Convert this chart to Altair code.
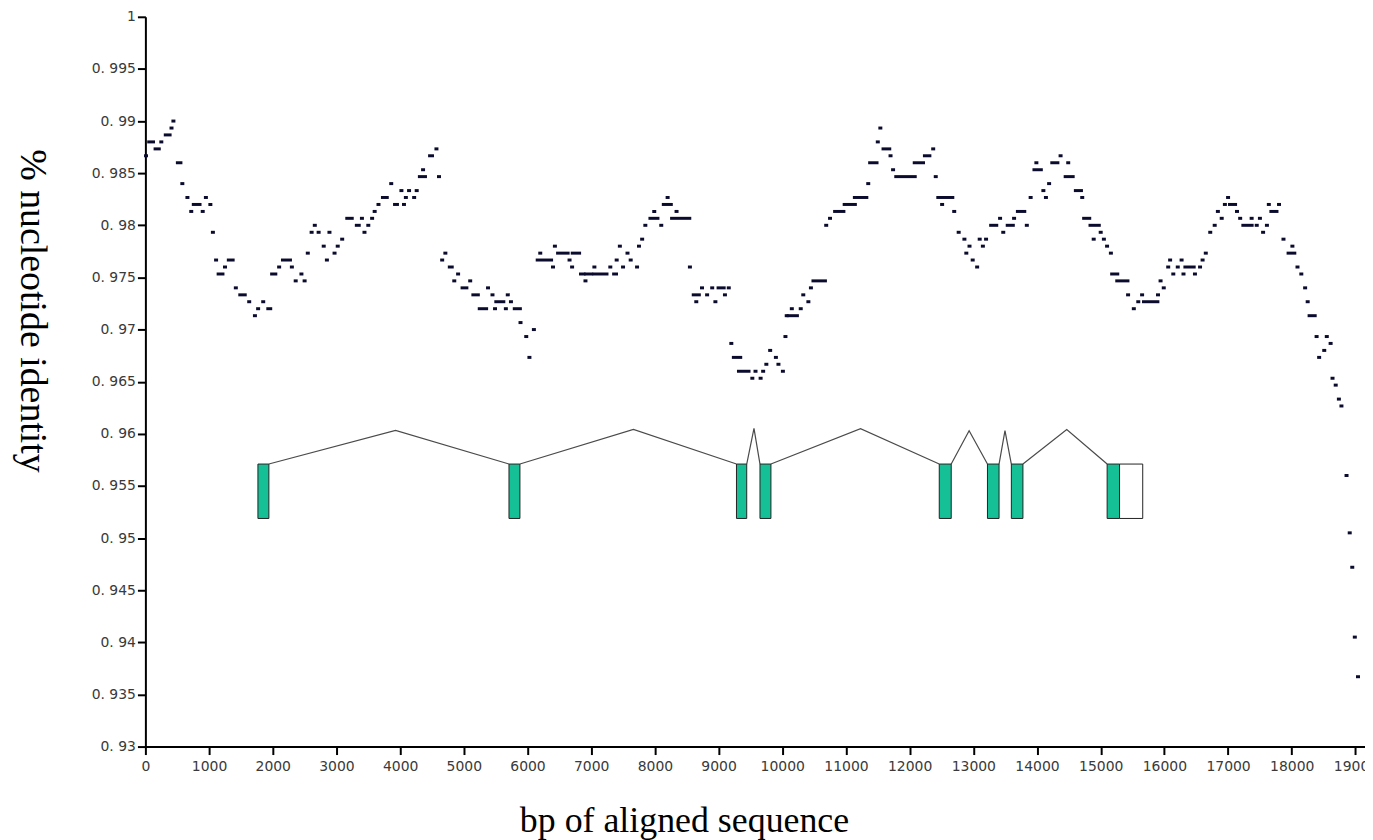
import altair as alt
import pandas as pd

# ---- sliding-window identity (each entry = one run of dots at one level) ----
dash_start = [10, 60, 160, 250, 320, 410, 440, 510, 580, 660, 720, 760, 900, 950, 1020, 1060, 1110, 1150, 1250, 1310,
              1420, 1490, 1630, 1720, 1770, 1850, 1930, 1990, 2100, 2160, 2300, 2360, 2450, 2500, 2550, 2610, 2660, 2720, 2800, 2850,
              2890, 2970, 3020, 3090, 3170, 3320, 3400, 3440, 3500, 3560, 3600, 3660, 3730, 3860, 3920, 4020, 4060, 4090, 4140, 4220,
              4260, 4310, 4360, 4470, 4570, 4610, 4660, 4710, 4780, 4850, 4910, 4980, 5100, 5150, 5250, 5380, 5450, 5490, 5510, 5660,
              5690, 5740, 5800, 5890, 5980, 6100, 6030, 6160, 6200, 6400, 6430, 6480, 6660, 6700, 6710, 6840, 6920, 7050, 7360, 6910,
              7050, 7300, 7400, 7450, 7500, 7570, 7620, 7720, 7750, 7800, 7850, 7930, 7990, 8100, 8140, 8200, 8340, 8270, 8550, 8610,
              8740, 8650, 8820, 8900, 8950, 9000, 9100, 9160, 9200, 9240, 9320, 9530, 9580, 9660, 9700, 9750, 9810, 9900, 9940, 10010,
              10050, 10070, 10100, 10150, 10290, 10330, 10410, 10450, 10490, 10690, 10750, 10830, 10980, 11140, 11350, 11380, 11500, 11540, 11590, 11700,
              11740, 11790, 12080, 12240, 12370, 12410, 12450, 12510, 12700, 12770, 12860, 12940, 12890, 12990, 13060, 13100, 13150, 13200, 13280, 13420,
              13470, 13540, 13640, 13700, 13840, 13900, 13960, 13990, 14100, 14140, 14190, 14240, 14370, 14490, 14450, 14610, 14710, 14740, 14840, 14890,
              15000, 15050, 15100, 15160, 15180, 15260, 15430, 15520, 15590, 15650, 15680, 15900, 15940, 15990, 16060, 16090, 16140, 16210, 16270, 16300,
              16330, 16480, 16560, 16600, 16650, 16720, 16790, 16840, 16900, 16950, 17000, 17030, 17140, 17190, 17240, 17370, 17450, 17500, 17550, 17610,
              17640, 17680, 17800, 17870, 17950, 18010, 18090, 18150, 18210, 18250, 18280, 18390, 18430, 18510, 18550, 18610, 18640, 18690, 18740, 18780,
              18860, 18910, 18950, 18990, 19040]
dash_end = [10, 120, 210, 250, 380, 410, 440, 550, 580, 660, 720, 850, 900, 950, 1020, 1060, 1110, 1210, 1250, 1370,
            1420, 1560, 1630, 1720, 1770, 1850, 1960, 2040, 2100, 2270, 2300, 2360, 2450, 2500, 2550, 2610, 2660, 2720, 2800, 2850,
            2890, 2970, 3020, 3090, 3240, 3350, 3400, 3440, 3500, 3560, 3600, 3660, 3790, 3860, 3950, 4020, 4060, 4090, 4140, 4220,
            4260, 4390, 4360, 4500, 4570, 4610, 4660, 4710, 4810, 4850, 4910, 5040, 5100, 5220, 5350, 5380, 5450, 5490, 5620, 5660,
            5690, 5740, 5880, 5890, 5980, 6100, 6030, 6370, 6200, 6400, 6430, 6630, 6660, 6700, 6810, 6880, 7000, 7240, 7390, 6910,
            7050, 7300, 7400, 7450, 7500, 7570, 7620, 7720, 7750, 7800, 7850, 8040, 7990, 8100, 8250, 8200, 8340, 8540, 8550, 8690,
            8740, 8650, 8820, 8900, 8950, 9080, 9100, 9160, 9200, 9340, 9470, 9530, 9580, 9660, 9700, 9750, 9810, 9900, 9940, 10010,
            10050, 10070, 10230, 10150, 10290, 10330, 10410, 10450, 10670, 10690, 10750, 10960, 11140, 11320, 11350, 11480, 11500, 11540, 11680, 11700,
            11740, 12080, 12210, 12310, 12370, 12410, 12670, 12510, 12700, 12770, 12860, 12940, 12890, 12990, 13060, 13100, 13150, 13200, 13360, 13420,
            13470, 13620, 13640, 13800, 13840, 13900, 14060, 13990, 14100, 14140, 14190, 14320, 14370, 14490, 14560, 14690, 14710, 14820, 14970, 14890,
            15000, 15050, 15100, 15160, 15260, 15420, 15430, 15520, 15590, 15650, 15890, 15900, 15940, 15990, 16060, 16090, 16140, 16210, 16270, 16300,
            16460, 16480, 16560, 16600, 16650, 16720, 16790, 16840, 16900, 16950, 17000, 17110, 17140, 17190, 17370, 17370, 17450, 17500, 17550, 17610,
            17640, 17760, 17800, 17870, 18040, 18010, 18090, 18150, 18210, 18250, 18360, 18390, 18430, 18510, 18550, 18610, 18640, 18690, 18740, 18780,
            18860, 18910, 18950, 18990, 19040]
dash_identity = [0.98667, 0.988, 0.98733, 0.988, 0.98867, 0.98933, 0.99, 0.986, 0.984, 0.98267, 0.98133, 0.982, 0.98133, 0.98267, 0.982, 0.97933, 0.97667, 0.97533, 0.976, 0.97667,
                 0.974, 0.97333, 0.97267, 0.97133, 0.972, 0.97267, 0.972, 0.97533, 0.976, 0.97667, 0.976, 0.97467, 0.97533, 0.97467, 0.97733, 0.97933, 0.98, 0.97933, 0.978, 0.97667,
                 0.97933, 0.97733, 0.978, 0.97867, 0.98067, 0.98, 0.98067, 0.97933, 0.98, 0.98067, 0.98133, 0.982, 0.98267, 0.984, 0.982, 0.98333, 0.982, 0.98267, 0.98333, 0.98267,
                 0.98333, 0.98467, 0.98533, 0.98667, 0.98733, 0.98467, 0.97667, 0.97733, 0.976, 0.97467, 0.97533, 0.974, 0.97467, 0.97333, 0.972, 0.974, 0.97333, 0.972, 0.97267, 0.972,
                 0.97333, 0.97267, 0.972, 0.97067, 0.96933, 0.97, 0.96733, 0.97667, 0.97733, 0.976, 0.978, 0.97733, 0.97667, 0.976, 0.97733, 0.97533, 0.97533, 0.97533, 0.97533, 0.97467,
                 0.976, 0.976, 0.97667, 0.978, 0.976, 0.97733, 0.97667, 0.976, 0.978, 0.97867, 0.98, 0.98067, 0.98133, 0.98, 0.982, 0.98267, 0.98133, 0.98067, 0.976, 0.97333,
                 0.974, 0.97267, 0.97333, 0.974, 0.97267, 0.974, 0.97333, 0.974, 0.96867, 0.96733, 0.966, 0.96533, 0.966, 0.96533, 0.966, 0.96667, 0.968, 0.96733, 0.96667, 0.966,
                 0.96933, 0.97133, 0.97133, 0.972, 0.972, 0.97333, 0.97267, 0.974, 0.97467, 0.98, 0.98067, 0.98133, 0.982, 0.98267, 0.984, 0.986, 0.988, 0.98933, 0.98733, 0.98667,
                 0.98533, 0.98467, 0.986, 0.98667, 0.98733, 0.98467, 0.98267, 0.982, 0.98133, 0.97933, 0.97867, 0.978, 0.97733, 0.97667, 0.976, 0.97867, 0.978, 0.97867, 0.98, 0.98067,
                 0.97933, 0.98, 0.98067, 0.98133, 0.98, 0.98267, 0.98533, 0.986, 0.98333, 0.98267, 0.984, 0.986, 0.98667, 0.986, 0.98467, 0.98333, 0.98267, 0.98067, 0.98, 0.97867,
                 0.97933, 0.97867, 0.978, 0.97733, 0.97533, 0.97467, 0.97333, 0.972, 0.97267, 0.97333, 0.97267, 0.97333, 0.97467, 0.974, 0.976, 0.97667, 0.97533, 0.976, 0.97667, 0.97533,
                 0.976, 0.97533, 0.976, 0.97667, 0.97733, 0.97933, 0.98, 0.98133, 0.98067, 0.982, 0.98267, 0.982, 0.98133, 0.98067, 0.98, 0.98067, 0.98, 0.98067, 0.97933, 0.98,
                 0.982, 0.98133, 0.982, 0.97867, 0.97733, 0.978, 0.976, 0.97533, 0.974, 0.97267, 0.97133, 0.96933, 0.96733, 0.968, 0.96933, 0.96867, 0.96533, 0.96467, 0.96333, 0.96267,
                 0.956, 0.9505, 0.9472, 0.9405, 0.9367]

# ---- gene model ----
exon_start = [1767, 5709, 9281, 9650, 12465, 13222, 13597, 15101]
exon_end = [1939, 5881, 9442, 9822, 12653, 13404, 13779, 15296]
utr_start = [15296]
utr_end = [15660]
exon_top = [0.9571]
exon_bottom = [0.95188]
intron_peak_x = [3928, 7663, 9556, 11229, 12934, 13497, 14467]
intron_peak_y = [0.96033, 0.96043, 0.96052, 0.9605, 0.9603, 0.9603, 0.9604]

x_ticks = [0, 1000, 2000, 3000, 4000, 5000, 6000, 7000, 8000, 9000, 10000,
           11000, 12000, 13000, 14000, 15000, 16000, 17000, 18000, 19000]
y_ticks = [0.93, 0.935, 0.94, 0.945, 0.95, 0.955, 0.96, 0.965, 0.97, 0.975,
           0.98, 0.985, 0.99, 0.995, 1.0]

dots = pd.DataFrame({"start": dash_start, "end": dash_end, "identity": dash_identity})
exons = pd.DataFrame({"start": exon_start, "end": exon_end,
                      "identity": exon_top * len(exon_start), "bottom": exon_bottom * len(exon_start)})
utr = pd.DataFrame({"start": utr_start, "end": utr_end, "identity": exon_top, "bottom": exon_bottom})

rows = []
for i in range(len(intron_peak_x)):
    rows.append({"intron": i, "order": 0, "start": exon_end[i], "identity": exon_top[0]})
    rows.append({"intron": i, "order": 1, "start": intron_peak_x[i], "identity": intron_peak_y[i]})
    rows.append({"intron": i, "order": 2, "start": exon_start[i + 1], "identity": exon_top[0]})
introns = pd.DataFrame(rows)

xscale = alt.Scale(domain=[0, 19150], nice=False, zero=False)
yscale = alt.Scale(domain=[0.93, 1.0], nice=False, zero=False)

x_axis = alt.Axis(
    values=x_ticks, format="d", grid=False,
    labelFont="DejaVu Sans", labelFontSize=14, labelColor="#3a3a3a", labelPadding=5,
    tickSize=8, tickWidth=2, tickColor="black", domainColor="black", domainWidth=2,
    title="bp of aligned sequence", titleFont="Liberation Serif", titleFontSize=36,
    titleFontWeight="normal", titleColor="black", titleX=541, titleY=74,
    titleAlign="center", titleBaseline="middle", labelFlush=False,
)
y_axis = alt.Axis(
    values=y_ticks, grid=False,
    labelExpr="replace(format(datum.value, '.3~f'), '.', '. ')",
    labelFont="DejaVu Sans", labelFontSize=14, labelColor="#3a3a3a", labelPadding=2,
    tickSize=8, tickWidth=2, tickColor="black", domainColor="black", domainWidth=2,
    title="% nucleotide identity", titleFont="Liberation Serif", titleFontSize=38,
    titleFontWeight="normal", titleColor="black", titleAngle=90, titleX=-114, titleY=295,
    titleAlign="center", titleBaseline="middle",
)

X = alt.X("start:Q", scale=xscale, axis=x_axis, title="bp of aligned sequence")
Y = alt.Y("identity:Q", scale=yscale, axis=y_axis, title="% nucleotide identity")

dots_layer = alt.Chart(dots).mark_rect(
    color="#0b0b2e", xOffset=-2, x2Offset=2, yOffset=-1.5, y2Offset=1.5
).encode(x=X, x2="end:Q", y=Y, y2="identity:Q")

intron_layer = alt.Chart(introns).mark_line(color="#4a4a4a", strokeWidth=1.2).encode(
    x=X, y=Y, detail="intron:N", order="order:Q",
)

exon_layer = alt.Chart(exons).mark_rect(fill="#16c096", stroke="#222222", strokeWidth=1).encode(
    x=X, x2="end:Q", y=Y, y2="bottom:Q",
)

utr_layer = alt.Chart(utr).mark_rect(fill="white", stroke="#222222", strokeWidth=1).encode(
    x=X, x2="end:Q", y=Y, y2="bottom:Q",
)

chart = alt.layer(dots_layer, intron_layer, exon_layer, utr_layer).properties(
    width=1225, height=733,
    autosize=alt.AutoSizeParams(type="none"),
    padding={"left": 138, "top": 7, "right": 0, "bottom": 92},
    background="white",
).configure_view(stroke=None)

chart.save("out.html", embed_options={"renderer": "svg", "actions": False})
